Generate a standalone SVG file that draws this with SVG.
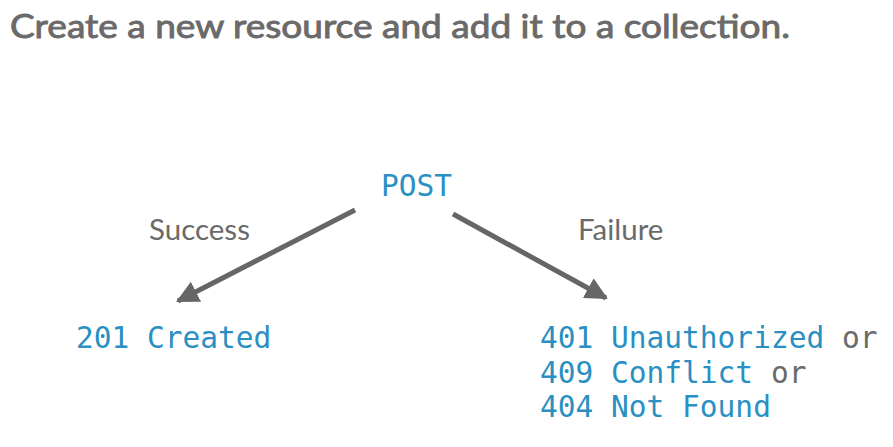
<svg xmlns="http://www.w3.org/2000/svg" width="893" height="447" viewBox="0 0 893 447">
<style>
.title{font-family:Lato,"Liberation Sans",sans-serif;font-weight:normal;font-size:33px;fill:#6a6a6a;stroke:#6a6a6a;stroke-width:0.9}
.lbl{font-family:Lato,"Liberation Sans",sans-serif;font-size:29.5px;fill:#6a6a6a}
.code{font-family:"DejaVu Sans Mono","Liberation Mono",monospace;font-size:29.5px;fill:#2a8fc2}
.or{fill:#6a6a6a}
.conn{stroke:#666;stroke-width:5;fill:none}
</style>
<defs>
<marker id="ah" viewBox="0 0 10 10" refX="9" refY="5" markerWidth="4.5" markerHeight="4.5" orient="auto" markerUnits="strokeWidth">
<path d="M0,0 L10,5 L0,10 z" fill="#666"/>
</marker>
</defs>
<rect width="893" height="447" fill="#fff"/>
<text class="title" x="10" y="38" textLength="780" lengthAdjust="spacingAndGlyphs">Create a new resource and add it to a collection.</text>
<g id="post"><text class="code" x="381" y="196">POST</text></g>
<g id="connectors">
<line class="conn" x1="355" y1="210" x2="178" y2="301" marker-end="url(#ah)"/>
<line class="conn" x1="453" y1="214" x2="606" y2="298" marker-end="url(#ah)"/>
<text class="lbl" x="149" y="240">Success</text>
<text class="lbl" x="578" y="240">Failure</text>
</g>
<g id="created"><text class="code" x="76" y="348">201 Created</text></g>
<g id="failure">
<text class="code" x="540" y="348">401 Unauthorized <tspan class="or">or</tspan></text>
<text class="code" x="540" y="383">409 Conflict <tspan class="or">or</tspan></text>
<text class="code" x="540" y="417">404 Not Found</text>
</g>
</svg>
